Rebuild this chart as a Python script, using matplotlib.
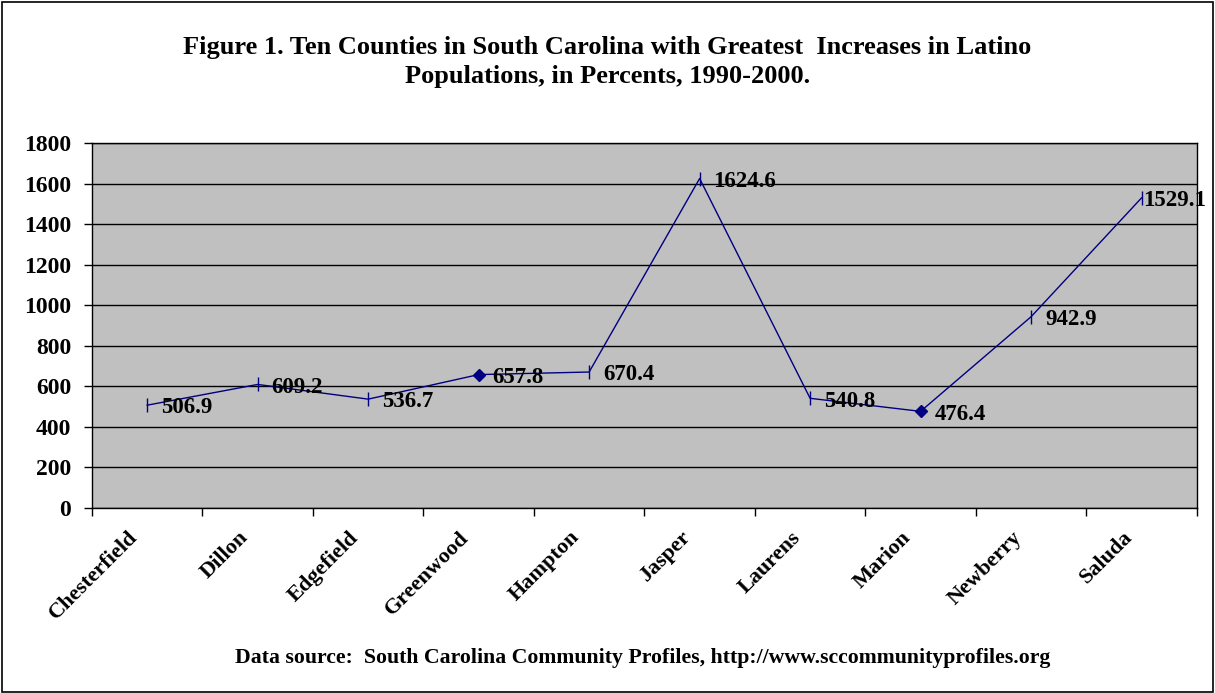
import numpy as np
import matplotlib
matplotlib.use('Agg')
import matplotlib.pyplot as plt
from matplotlib.patches import Rectangle
from matplotlib.transforms import ScaledTranslation

counties = ['Chesterfield', 'Dillon', 'Edgefield', 'Greenwood', 'Hampton',
            'Jasper', 'Laurens', 'Marion', 'Newberry', 'Saluda']
increases = [506.9, 609.2, 536.7, 657.8, 670.4, 1624.6, 540.8, 476.4, 942.9, 1529.1]
diamondCounties = ['Greenwood', 'Marion']
yTicks = [0, 200, 400, 600, 800, 1000, 1200, 1400, 1600, 1800]

plt.rcParams['font.family'] = ['Liberation Serif', 'DejaVu Serif']
plt.rcParams['font.weight'] = 'bold'

fig = plt.figure(figsize=(12.15, 6.93), dpi=100)
ax = fig.add_axes([0.0757, 0.267, 0.9093, 0.5267])
fig.patches.append(Rectangle((0.002, 0.002), 0.996, 0.995, transform=fig.transFigure,
                             fill=False, edgecolor='black', linewidth=1.2))

x = np.arange(len(counties))
navy = '#000080'
ax.plot(x, increases, color=navy, linewidth=1.0, zorder=3)
for xi, yi, name in zip(x, increases, counties):
    if name in diamondCounties:
        ax.plot(xi, yi, marker='D', markersize=6.5, color=navy, zorder=4)
    else:
        ax.plot(xi, yi, marker='|', markersize=10, markeredgewidth=1.0, color=navy, zorder=4)
    # last label is squeezed against the right edge, as in the original
    dx = 1 if name == counties[-1] else 10
    ax.annotate('{:.1f}'.format(yi), (xi, yi), xytext=(dx, -2), textcoords='offset points',
                ha='left', va='center', fontsize=16.5, fontweight='bold', zorder=5,
                annotation_clip=False)

ax.set_facecolor('#C0C0C0')
ax.set_xlim(-0.5, len(counties) - 0.5)
ax.set_ylim(0, 1800)
ax.set_yticks(yTicks)
ax.set_yticklabels([str(v) for v in yTicks], fontsize=17, fontweight='bold')
ax.yaxis.grid(True, color='black', linewidth=1.0)
ax.set_axisbelow(True)

ax.set_xticks(x)
ax.set_xticklabels(counties, rotation=45, ha='right', va='top', rotation_mode='anchor',
                   fontsize=16, fontweight='bold')
ax.tick_params(axis='x', which='major', length=0, pad=14)
shift = ScaledTranslation(-14 / 72, 0, fig.dpi_scale_trans)
for lbl in ax.get_xticklabels():
    lbl.set_transform(lbl.get_transform() + shift)
ax.set_xticks(np.arange(-0.5, len(counties)), minor=True)
ax.tick_params(axis='x', which='minor', length=6, width=1, direction='out')
ax.tick_params(axis='y', length=6, width=1, direction='out', pad=9)

for side in ['left', 'bottom', 'right', 'top']:
    ax.spines[side].set_color('black')
    ax.spines[side].set_linewidth(1.0)

fig.text(0.5, 0.932, 'Figure 1. Ten Counties in South Carolina with Greatest  Increases in Latino',
         ha='center', va='center', fontsize=19, fontweight='bold')
fig.text(0.5, 0.889, 'Populations, in Percents, 1990-2000.',
         ha='center', va='center', fontsize=19, fontweight='bold')
fig.text(0.529, 0.051, 'Data source:  South Carolina Community Profiles, http://www.sccommunityprofiles.org',
         ha='center', va='center', fontsize=15.7, fontweight='bold')

fig.savefig('out.png', dpi=100, facecolor='white')
